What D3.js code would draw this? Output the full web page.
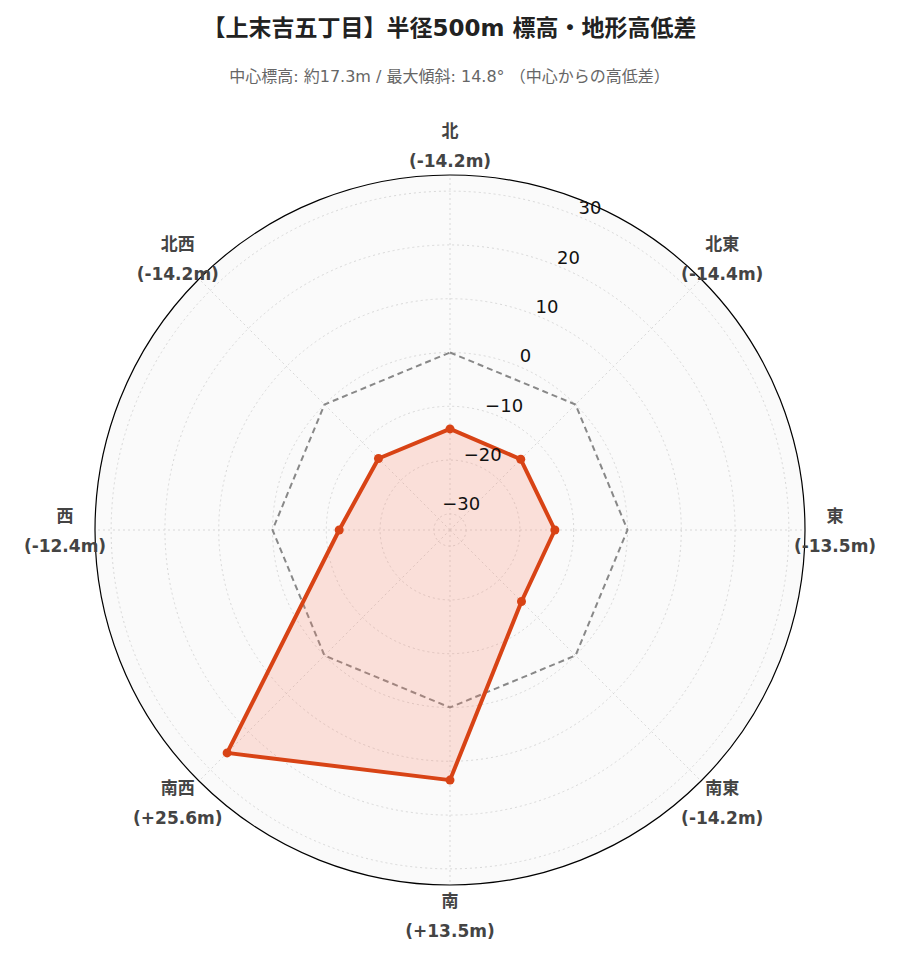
<!DOCTYPE html>
<html lang="ja">
<head>
<meta charset="utf-8">
<script src="https://d3js.org/d3.v7.min.js"></script>
<style>
  body { margin: 0; background: #fff; font-family: "DejaVu Sans", "Noto Sans CJK JP", sans-serif; }
</style>
</head>
<body>
<div id="chart"></div>
<script>
  // data
  const directions = ["北", "北東", "東", "南東", "南", "南西", "西", "北西"];
  const diffs = [-14.2, -14.4, -13.5, -14.2, 13.5, 25.6, -12.4, -14.2];
  const diffLabels = ["(-14.2m)", "(-14.4m)", "(-13.5m)", "(-14.2m)", "(+13.5m)", "(+25.6m)", "(-12.4m)", "(-14.2m)"];
  const radialTicks = [-30, -20, -10, 0, 10, 20, 30];

  const W = 899, H = 962, cx = 450, cy = 530, R = 355;

  const svg = d3.select("#chart").append("svg")
    .attr("width", W).attr("height", H);

  svg.append("text").attr("x", W / 2).attr("y", 36)
    .attr("text-anchor", "middle").attr("font-size", 23).attr("font-weight", "bold")
    .attr("fill", "#222").text("【上末吉五丁目】半径500m 標高・地形高低差");
  svg.append("text").attr("x", W / 2).attr("y", 82)
    .attr("text-anchor", "middle").attr("font-size", 16).attr("fill", "#666")
    .text("中心標高: 約17.3m / 最大傾斜: 14.8° （中心からの高低差）");

  const r = d3.scaleLinear().domain([-33, 33]).range([0, R]);
  const ang = d3.scalePoint().domain(directions).range([0, 2 * Math.PI * 7 / 8]);
  const pt = (a, rad) => [cx + rad * Math.sin(a), cy - rad * Math.cos(a)];

  const g = svg.append("g");
  g.append("circle").attr("cx", cx).attr("cy", cy).attr("r", R).attr("fill", "#fafafa");

  // circular grid
  g.selectAll(".grid").data(radialTicks).join("circle")
    .attr("cx", cx).attr("cy", cy).attr("r", d => r(d))
    .attr("fill", "none").attr("stroke", "#d8d8d8").attr("stroke-dasharray", "2,3");
  // spokes
  g.selectAll(".spoke").data(directions).join("line")
    .attr("x1", cx).attr("y1", cy)
    .attr("x2", d => pt(ang(d), R)[0]).attr("y2", d => pt(ang(d), R)[1])
    .attr("stroke", "#d8d8d8").attr("stroke-dasharray", "2,3");

  g.append("circle").attr("cx", cx).attr("cy", cy).attr("r", R)
    .attr("fill", "none").attr("stroke", "#000").attr("stroke-width", 1.2);

  const line = d3.lineRadial().curve(d3.curveLinearClosed)
    .angle(d => ang(d.dir)).radius(d => r(d.v));

  // zero reference
  g.append("path").attr("transform", `translate(${cx},${cy})`)
    .attr("d", line(directions.map(dir => ({ dir, v: 0 }))))
    .attr("fill", "none").attr("stroke", "#888").attr("stroke-width", 2).attr("stroke-dasharray", "6,4");

  // data polygon
  const pts = directions.map((dir, i) => ({ dir, v: diffs[i] }));
  g.append("path").attr("transform", `translate(${cx},${cy})`)
    .attr("d", line(pts))
    .attr("fill", "rgba(250,128,100,0.22)").attr("stroke", "#d84315").attr("stroke-width", 4)
    .attr("stroke-linejoin", "round");
  g.selectAll(".dot").data(pts).join("circle")
    .attr("cx", d => pt(ang(d.dir), r(d.v))[0]).attr("cy", d => pt(ang(d.dir), r(d.v))[1])
    .attr("r", 4.5).attr("fill", "#d84315");

  // radial tick labels
  const ta = 23.5 * Math.PI / 180;
  g.selectAll(".tick").data(radialTicks).join("text")
    .attr("x", d => pt(ta, r(d) + 12)[0]).attr("y", d => pt(ta, r(d) + 12)[1] + 6)
    .attr("text-anchor", "middle").attr("font-size", 18).attr("fill", "#111")
    .text(d => d < 0 ? "\u2212" + Math.abs(d) : d);

  // direction labels
  const lab = g.selectAll(".lab").data(directions).join("text")
    .attr("text-anchor", "middle").attr("font-size", 17).attr("font-weight", "bold").attr("fill", "#444")
    .attr("transform", d => {
      const [x, y] = pt(ang(d), R + 30);
      return `translate(${x},${y - 8})`;
    });
  lab.append("tspan").attr("x", 0).attr("dy", 0).text(d => d);
  lab.append("tspan").attr("x", 0).attr("dy", 30).text((d, i) => diffLabels[i]);
</script>
</body>
</html>
